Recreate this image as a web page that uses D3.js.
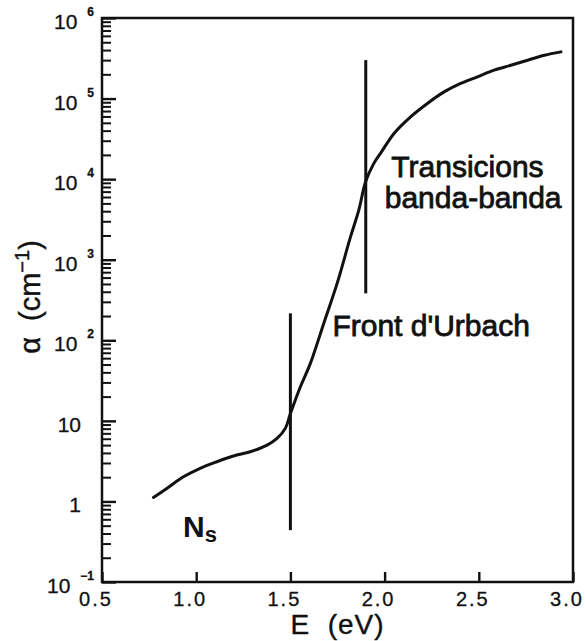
<!DOCTYPE html>
<html>
<head>
<meta charset="utf-8">
<script src="https://cdn.jsdelivr.net/npm/d3@7"></script>
<style>
  body { margin: 0; background: #fff; }
  svg text { font-family: "Liberation Sans", Arial, sans-serif; fill: #111; }
</style>
</head>
<body>
<div id="chart"></div>
<script>
// absorption curve
var energy = [0.773, 0.844, 0.932, 1.021, 1.11, 1.198, 1.287, 1.376, 1.429, 1.473, 1.5,
              1.553, 1.606, 1.677, 1.748, 1.819, 1.863, 1.899, 1.943, 1.979, 2.05, 2.138,
              2.227, 2.316, 2.404, 2.493, 2.581, 2.67, 2.759, 2.848, 2.936];
var alpha = [1.12, 1.45, 2.02, 2.58, 3.11, 3.66, 4.14, 5.0, 6.06, 8.07, 12.3,
             26.5, 51.7, 162, 508, 1920, 4120, 9270, 15700, 21000, 36900, 59300,
             87000, 121000, 154000, 186000, 225000, 259000, 299000, 345000, 380000];

// vertical markers: E, alpha bottom, alpha top
var markerE = [1.5, 1.9];
var markerLow = [0.44, 382];
var markerHigh = [216, 300000];

var xTicks = [0.5, 1.0, 1.5, 2.0, 2.5, 3.0];
var xTickLabels = ["0.5", "1.0", "1.5", "2.0", "2.5", "3.0"];
var yTicks = [1e-1, 1, 10, 1e2, 1e3, 1e4, 1e5, 1e6];
var yTickBase = ["10", "1", "10", "10", "10", "10", "10", "10"];
var yTickExp = ["\u22121", "", "", "2", "3", "4", "5", "6"];

var width = 585, height = 641;
var margin = {top: 18, right: 12, bottom: 59, left: 102};

var svg = d3.select("#chart").append("svg")
    .attr("width", width)
    .attr("height", height);

var x = d3.scaleLinear().domain([0.5, 3.0]).range([margin.left, width - margin.right]);
var y = d3.scaleLog().domain([1e-1, 1e6]).range([height - margin.bottom, margin.top]);

// frame
svg.append("rect")
    .attr("x", margin.left)
    .attr("y", margin.top)
    .attr("width", width - margin.left - margin.right)
    .attr("height", height - margin.top - margin.bottom)
    .attr("fill", "none")
    .attr("stroke", "#111")
    .attr("stroke-width", 2.5);

// minor ticks on the log axis (2..9 in each decade)
var minor = [];
yTicks.slice(0, -1).forEach(function(p) {
    for (var m = 2; m <= 9; m++) minor.push(p * m);
});

svg.append("g")
    .attr("transform", "translate(" + margin.left + ",0)")
    .call(d3.axisRight(y).tickValues(minor).tickSize(9).tickFormat(""))
    .call(function(g) {
        g.select(".domain").remove();
        g.selectAll("line").attr("stroke", "#111").attr("stroke-width", 2);
    });
svg.append("g")
    .attr("transform", "translate(" + margin.left + ",0)")
    .call(d3.axisRight(y).tickValues(yTicks).tickSize(14).tickFormat(""))
    .call(function(g) {
        g.select(".domain").remove();
        g.selectAll("line").attr("stroke", "#111").attr("stroke-width", 2.4);
    });
svg.append("g")
    .attr("transform", "translate(0," + (height - margin.bottom) + ")")
    .call(d3.axisTop(x).tickValues(xTicks).tickSize(10).tickFormat(""))
    .call(function(g) {
        g.select(".domain").remove();
        g.selectAll("line").attr("stroke", "#111").attr("stroke-width", 2.4);
    });

// y tick labels with exponents
var yl = svg.append("g").selectAll("text")
    .data(yTicks)
    .enter().append("text")
    .attr("x", function(d, i) { return yTickExp[i] ? 94 : 81; })
    .attr("y", function(d) { return y(d) + 11; })
    .attr("text-anchor", "end")
    .style("font-size", "21px")
    .style("stroke", "#111")
    .style("stroke-width", 0.3);
yl.append("tspan").text(function(d, i) { return yTickBase[i]; });
yl.append("tspan")
    .attr("dx", function(d, i) { return yTickExp[i] ? 10 : 0; })
    .attr("dy", -13)
    .style("font-size", "12px")
    .style("font-weight", "bold")
    .text(function(d, i) { return yTickExp[i]; });

// x tick labels
svg.append("g").selectAll("text")
    .data(xTicks)
    .enter().append("text")
    .attr("x", function(d) { return x(d) - 6; })
    .attr("y", height - margin.bottom + 24)
    .attr("text-anchor", "middle")
    .style("font-size", "20px")
    .style("letter-spacing", "2px")
    .style("stroke", "#111")
    .style("stroke-width", 0.3)
    .text(function(d, i) { return xTickLabels[i]; });

// markers
svg.append("g").selectAll("line")
    .data(markerE)
    .enter().append("line")
    .attr("x1", function(d) { return x(d); })
    .attr("x2", function(d) { return x(d); })
    .attr("y1", function(d, i) { return y(markerLow[i]); })
    .attr("y2", function(d, i) { return y(markerHigh[i]); })
    .attr("stroke", "#111")
    .attr("stroke-width", 3);

// curve
var line = d3.line()
    .x(function(d, i) { return x(energy[i]); })
    .y(function(d) { return y(d); })
    .curve(d3.curveCatmullRom.alpha(0.5));

svg.append("path")
    .datum(alpha)
    .attr("d", line)
    .attr("fill", "none")
    .attr("stroke", "#111")
    .attr("stroke-width", 3)
    .attr("stroke-linecap", "round");

// annotations
function label(txt, ex, ay, anchor) {
    svg.append("text")
        .attr("x", x(ex))
        .attr("y", y(ay))
        .attr("text-anchor", anchor)
        .style("font-size", "30px")
        .style("stroke", "#111")
        .style("stroke-width", 0.8)
        .text(txt);
}
label("Transicions", 2.44, 10600, "middle");
label("banda-banda", 2.47, 4370, "middle");
label("Front d'Urbach", 1.723, 113, "start");

var ns = svg.append("text")
    .attr("x", x(0.93))
    .attr("y", y(0.36))
    .style("font-size", "30px")
    .style("font-weight", "bold");
ns.append("tspan").text("N");
ns.append("tspan").attr("dy", 5).style("font-size", "22px").text("s");

// axis titles
svg.append("text")
    .attr("x", (margin.left + width - margin.right) / 2)
    .attr("y", 634)
    .attr("text-anchor", "middle")
    .style("font-size", "28px")
    .style("letter-spacing", "1px")
    .style("stroke", "#111")
    .style("stroke-width", 0.4)
    .attr("xml:space", "preserve")
    .text("E  (eV)");

var yt = svg.append("text")
    .attr("transform", "translate(40,297) rotate(-90)")
    .attr("text-anchor", "middle")
    .attr("xml:space", "preserve")
    .style("font-size", "29px")
    .style("stroke", "#111")
    .style("stroke-width", 0.4);
yt.append("tspan").text("\u03b1  (cm");
yt.append("tspan").attr("dy", -11).style("font-size", "20px").text("\u22121");
yt.append("tspan").attr("dy", 11).text(")");
</script>
</body>
</html>
